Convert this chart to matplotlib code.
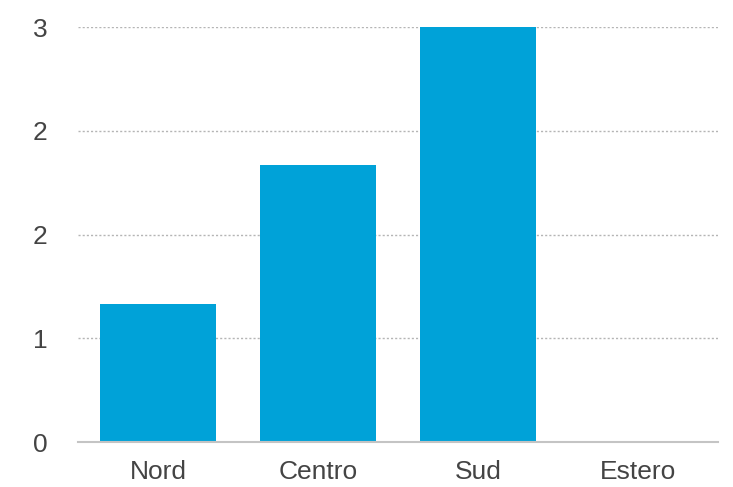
import matplotlib
matplotlib.use("Agg")
import matplotlib.pyplot as plt
from matplotlib.ticker import FixedLocator, FuncFormatter

categories = ["Nord", "Centro", "Sud", "Estero"]
values = [1, 2, 3, 0]
y_ticks = [0, 0.75, 1.5, 2.25, 3]

plt.rcParams['font.family'] = ['Liberation Sans', 'DejaVu Sans']

fig = plt.figure(figsize=(7.33, 4.87), dpi=100)
ax = fig.add_axes([78/733, 1-442/487, 640/733, 415/487])

x = range(len(categories))
ax.bar(x, values, width=0.72, color="#00A2D8", zorder=3)

ax.set_xlim(-0.5, len(categories) - 0.5)
ax.set_ylim(0, 3)
ax.yaxis.set_major_locator(FixedLocator(y_ticks))
ax.yaxis.set_major_formatter(FuncFormatter(lambda v, p: f"{v:.0f}"))
ax.set_xticks(list(x))
ax.set_xticklabels(categories)

for s in ["top", "right", "left"]:
    ax.spines[s].set_visible(False)
ax.spines["bottom"].set_color("#c4c4c4")
ax.spines["bottom"].set_linewidth(1.5)
ax.spines["bottom"].set_zorder(4)

ax.grid(axis="y", color="#b5b5b5", linestyle=(0, (1.5, 1.5)), linewidth=1.0, zorder=0)
ax.set_axisbelow(True)

ax.tick_params(axis="both", length=0, labelsize=19, labelcolor="#444444")
ax.tick_params(axis="y", pad=22)
ax.tick_params(axis="x", pad=13)

fig.savefig("out.png", dpi=100)
